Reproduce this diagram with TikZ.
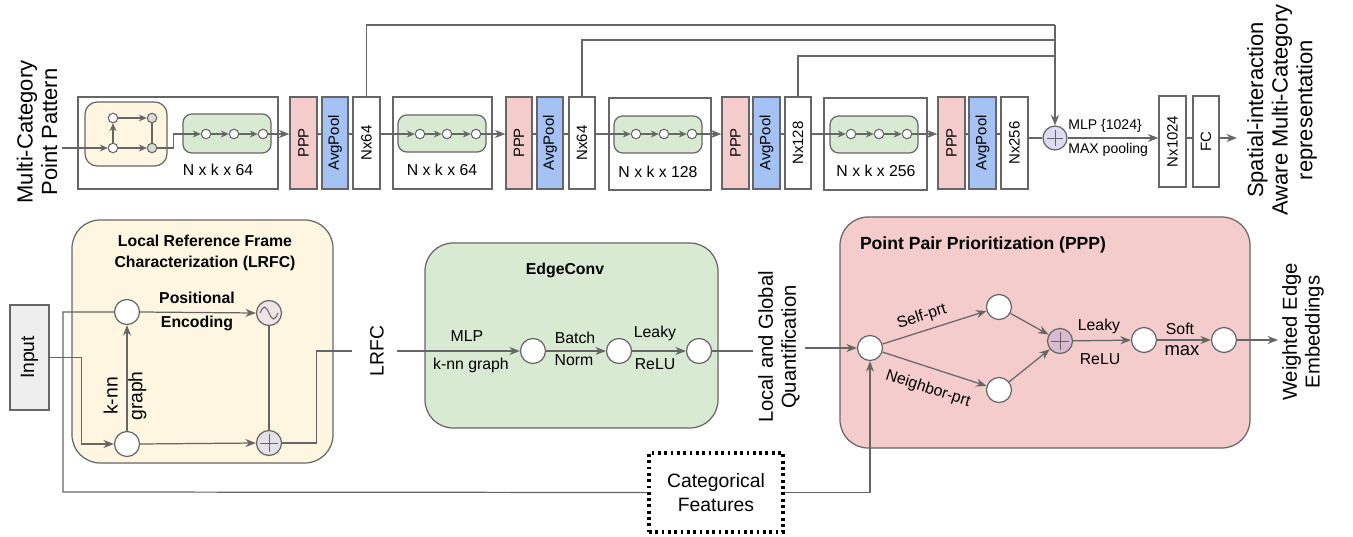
\documentclass[tikz,border=0pt]{standalone}
\usepackage{fontspec}
\setmainfont{Liberation Sans}
\usetikzlibrary{arrows.meta,calc,fit}

\definecolor{ln}{HTML}{666666}
\definecolor{pinkf}{HTML}{F4CCCC}
\definecolor{bluef}{HTML}{A4C2F4}
\definecolor{greenf}{HTML}{D9EAD3}
\definecolor{yellowf}{HTML}{FEF6E0}
\definecolor{grayf}{HTML}{EEEEEE}
\definecolor{lavf}{HTML}{DCDCF2}
\definecolor{mauvef}{HTML}{D8BCD2}
\definecolor{sinef}{HTML}{EEE4E6}
\definecolor{sumf}{HTML}{E4E2E6}
\definecolor{dotgray}{HTML}{D9D9D9}

\newcommand\fsBox{\fontsize{8.5}{10}\selectfont}
\newcommand\fsDim{\fontsize{9}{11}\selectfont}
\newcommand\fsBig{\fontsize{12.5}{14}\selectfont}
\newcommand\fsMid{\fontsize{11}{14}\selectfont}
\newcommand\fsSide{\fontsize{11.5}{13}\selectfont}
\newcommand\fsLbl{\fontsize{9}{11}\selectfont}
\newcommand\fsSm{\fontsize{8}{10}\selectfont}
\newcommand\fsHead{\fontsize{9}{12}\selectfont\bfseries}
\newcommand\fsHeadL{\fontsize{10}{12}\selectfont\bfseries}

\tikzset{
  wire/.style={draw=ln, line width=0.7pt},
  arr/.style={wire, -{Stealth[length=6pt,width=4.6pt]}},
  sarr/.style={wire, -{Stealth[length=4.5pt,width=4pt]}},
  frame/.style={draw=ln, line width=0.7pt, inner sep=0pt},
  rbox/.style={frame, rounded corners=16pt},
  sbox/.style={frame, rounded corners=5pt},
  dot/.style={circle, draw=ln, fill=white, line width=0.6pt, minimum size=0.19cm, inner sep=0pt},
  bnode/.style={circle, draw=ln, fill=white, line width=0.7pt, minimum size=0.5cm, inner sep=0pt},
  txt/.style={inner sep=0pt},
  elbl/.style={inner sep=1.5pt, font=\fsLbl},
  cross/.style={draw=ln, line width=0.4pt},
}

% narrow upright box with rotated caption
\newcommand\colbox[5]{%
  \node[frame, fill=#4, fit={(#2,97) (#3,189)}] (#1) {};
  \node[txt, rotate=90, font=\fsBox] (#1t) at (#1.center) {#5};}

\begin{document}
\begin{tikzpicture}[x=0.02cm, y=-0.02cm]
\useasboundingbox (0,0) rectangle (1353,537);

% ---------------- upper pipeline ----------------
\node[txt, rotate=90, align=center, font=\fsBig] (mcpp) at (37,132) {Multi-Category\\Point Pattern};
\coordinate (src) at (62,148);

% block 1
\node[frame, fit={(78,97) (278,189)}] (blk1) {};
\node[frame, fill=yellowf, rounded corners=7pt, fit={(85,102) (167,166)}] (knn1) {};
\node[dot] (m1) at (113,148) {};
\node[dot] (m2) at (113,118) {};
\node[dot, fill=dotgray] (m3) at (152,118) {};
\node[dot, fill=dotgray] (m4) at (152,148) {};
\node[sbox, fill=greenf, fit={(183,114) (271,153)}] (ec1) {};
\node[dot] (g11) at (206,134) {};
\node[dot] (g12) at (234,134) {};
\node[dot] (g13) at (263,134) {};
\node[txt, font=\fsDim] (d1) at (218,170) {N x k x 64};

\colbox{ppp1}{290}{317}{pinkf}{PPP}
\colbox{avg1}{322}{348}{bluef}{AvgPool}
\colbox{nxa}{353}{380}{white}{Nx64}

% block 2
\node[frame, fit={(393,97) (492,189)}] (blk2) {};
\node[sbox, fill=greenf, fit={(398,115) (486,152)}] (ec2) {};
\node[dot] (g21) at (420,134) {};
\node[dot] (g22) at (447,134) {};
\node[dot] (g23) at (476,134) {};
\node[txt, font=\fsDim] (d2) at (442,170) {N x k x 64};

\colbox{ppp2}{506}{532}{pinkf}{PPP}
\colbox{avg2}{537}{563}{bluef}{AvgPool}
\colbox{nxb}{569}{595}{white}{Nx64}

% block 3
\node[frame, fit={(609,98) (711,190)}] (blk3) {};
\node[sbox, fill=greenf, fit={(614,116) (702,153)}] (ec3) {};
\node[dot] (g31) at (636,134) {};
\node[dot] (g32) at (664,134) {};
\node[dot] (g33) at (692,134) {};
\node[txt, font=\fsDim] (d3) at (658,172) {N x k x 128};

\colbox{ppp3}{722}{749}{pinkf}{PPP}
\colbox{avg3}{753}{780}{bluef}{AvgPool}
\colbox{nxc}{785}{811}{white}{Nx128}

% block 4
\node[frame, fit={(824,98) (927,190)}] (blk4) {};
\node[sbox, fill=greenf, fit={(830,116) (918,153)}] (ec4) {};
\node[dot] (g41) at (851,134) {};
\node[dot] (g42) at (879,134) {};
\node[dot] (g43) at (907,134) {};
\node[txt, font=\fsDim] (d4) at (876,171) {N x k x 256};

\colbox{ppp4}{938}{965}{pinkf}{PPP}
\colbox{avg4}{969}{996}{bluef}{AvgPool}
\colbox{nxd}{1001}{1028}{white}{Nx256}

% aggregation and head
\node[circle, draw=ln, fill=lavf, line width=0.7pt, minimum size=0.48cm, inner sep=0pt] (sum) at (1055,138) {};
\draw[cross] ($(sum)+(-8,0)$) -- ($(sum)+(8,0)$) ($(sum)+(0,-8)$) -- ($(sum)+(0,8)$);
\node[frame, fill=white, fit={(1159,96) (1186,187)}] (n1024) {};
\node[txt, rotate=90, font=\fsBox] (n1024t) at (n1024.center) {Nx1024};
\node[frame, fill=white, fit={(1193,96) (1219,187)}] (fc) {};
\node[txt, rotate=90, font=\fsBox] (fct) at (fc.center) {FC};
\coordinate (out) at (1237,138);
\node[txt, rotate=90, align=center, font=\fsBig] (sia) at (1282,110) {Spatial-interaction\\Aware Multi-Category\\representation};

% upper connectors
\draw[sarr] (src) -- (m1);
\draw[sarr] (m1) -- (m2);
\draw[sarr] (m2) -- (m3);
\draw[sarr] (m1) -- (m4);
\draw[wire] (m3) -- (m4);
\draw[sarr] (m4.east) -- ++(16,0) |- (g11);
\draw[sarr] (g11) -- (g12);
\draw[sarr] (g12) -- (g13);
\draw[arr] (g13) -- (g13 -| ppp1.west);
\draw[wire] (ppp1.east |- g13) -- (avg1.west |- g13);
\draw[wire] (avg1.east |- g13) -- (nxa.west |- g13);

\draw[sarr] (g21 -| nxa.east) -- (g21);
\draw[sarr] (g21) -- (g22);
\draw[sarr] (g22) -- (g23);
\draw[arr] (g23) -- (g23 -| ppp2.west);
\draw[wire] (ppp2.east |- g23) -- (avg2.west |- g23);
\draw[wire] (avg2.east |- g23) -- (nxb.west |- g23);

\draw[sarr] (g31 -| nxb.east) -- (g31);
\draw[sarr] (g31) -- (g32);
\draw[sarr] (g32) -- (g33);
\draw[arr] (g33) -- (g33 -| ppp3.west);
\draw[wire] (ppp3.east |- g33) -- (avg3.west |- g33);
\draw[wire] (avg3.east |- g33) -- (nxc.west |- g33);

\draw[sarr] (g41 -| nxc.east) -- (g41);
\draw[sarr] (g41) -- (g42);
\draw[sarr] (g42) -- (g43);
\draw[arr] (g43) -- (g43 -| ppp4.west);
\draw[wire] (ppp4.east |- g43) -- (avg4.west |- g43);
\draw[wire] (avg4.east |- g43) -- (nxd.west |- g43);
\draw[wire] (nxd.east |- sum) -- (sum.west);

% skip connections into the sum
\coordinate (j1) at (1055,25);
\coordinate (j2) at (1055,40);
\coordinate (j3) at (1055,56);
\draw[wire] (nxa.north) |- (j1);
\draw[wire] (nxb.north) |- (j2);
\draw[wire] (nxc.north) |- (j3);
\draw[arr] (j1) -- (sum.north);

\draw[arr] (sum.east) -- (sum.east -| n1024.west);
\node[txt, anchor=west, font=\fsSm] (mlp) at (1068,126) {MLP \{1024\}};
\node[txt, anchor=west, font=\fsSm] (maxp) at (1068,150) {MAX pooling};
\draw[wire] (n1024.east |- sum) -- (fc.west |- sum);
\draw[arr] (fc.east |- sum) -- (out);

% ---------------- LRFC ----------------
\node[frame, fill=grayf, fit={(10,305) (49,410)}] (input) {};
\node[txt, rotate=90, font=\fsMid] (inputt) at (input.center) {Input};

\node[rbox, fill=yellowf, fit={(72,220) (333,463)}] (lrfc) {};
\node[txt, align=center, font=\fsHead] (lrfct) at (205,253) {Local Reference Frame\\Characterization (LRFC)};
\node[bnode] (A) at (127,312) {};
\node[bnode] (B) at (127,444) {};
\node[bnode, fill=sinef] (C) at (269,313) {};
\node[bnode, fill=sumf] (D) at (269,443) {};
\draw[draw=ln, line width=0.6pt] ($(C)+(-9,0)$) sin ($(C)+(-4.5,-6)$) cos (C) sin ($(C)+(4.5,6)$) cos ($(C)+(9,0)$);
\draw[cross] ($(D)+(-9,0)$) -- ($(D)+(9,0)$) ($(D)+(0,-9)$) -- ($(D)+(0,9)$);
\node[txt, font=\fsHead] (pos) at (197,298) {Positional};
\node[txt, font=\fsHead] (enc) at (197,323) {Encoding};
\node[txt, rotate=90, align=center, font=\fsMid] (knn) at (125,396) {k-nn\\graph};

\draw[arr] (input.east) -- ++(32,0) |- (B.west);
\draw[arr] (B.north) -- (A.south);
\draw[arr] (A.east) -- (C.west);
\draw[arr] (B.east) -- (D.west);
\draw[wire] (C.south) -- (D.north);

\coordinate (lrfcL) at (352,351);
\node[txt, rotate=90, font=\fsMid] (lrfcout) at (377,351) {LRFC};
\coordinate (lrfcR) at (397,351);
\draw[wire] (D.east) -- ++(34,0) |- (lrfcL);

% ---------------- EdgeConv ----------------
\node[rbox, fill=greenf, fit={(425,243) (718,428)}] (edge) {};
\node[txt, font=\fsHead] (edget) at (565,270) {EdgeConv};
\node[bnode] (E1) at (533,351) {};
\node[bnode] (E2) at (619,351) {};
\node[bnode] (E3) at (699,351) {};
\draw[arr] (lrfcR) -- (E1);
\draw[arr] (E1) -- (E2);
\draw[arr] (E2) -- (E3);
\node[txt, font=\fsLbl] (l1) at (467,336) {MLP};
\node[txt, font=\fsLbl] (l2) at (471,365) {k-nn graph};
\node[txt, font=\fsLbl] (l3) at (575,338) {Batch};
\node[txt, font=\fsLbl] (l4) at (574,360) {Norm};
\node[txt, font=\fsLbl] (l5) at (655,333) {Leaky};
\node[txt, font=\fsLbl] (l6) at (655,364) {ReLU};

\coordinate (lgqL) at (753,351);
\draw[wire] (E3) -- (lgqL);
\node[txt, rotate=90, align=center, font=\fsSide] (lgq) at (779,347) {Local and Global\\Quantification};
\coordinate (lgqR) at (805,348);

% ---------------- categorical features ----------------
\node[draw=black, line width=1.8pt, dash pattern=on 1.6pt off 2pt, inner sep=0pt, fit={(649,453) (783,532)}] (cat) {};
\node[txt, align=center, font=\fontsize{11}{14}\selectfont] (catt) at (cat.center) {Categorical\\Features};
\coordinate (low) at (63,492);
\draw[wire] (A.west) -| (low) -- (cat.west);

% ---------------- PPP ----------------
\node[rbox, fill=pinkf, fit={(840,217) (1250,448)}] (pppbox) {};
\node[txt, font=\fsHeadL] (pppt) at (983,245) {Point Pair Prioritization (PPP)};
\node[bnode] (P1) at (870,348) {};
\node[bnode] (P2) at (999,307) {};
\node[bnode] (P3) at (999,390) {};
\node[bnode, fill=mauvef] (P4) at (1060,341) {};
\node[bnode] (P5) at (1144,340) {};
\node[bnode] (P6) at (1224,340) {};
\draw[cross] ($(P4)+(-9,0)$) -- ($(P4)+(9,0)$) ($(P4)+(0,-9)$) -- ($(P4)+(0,9)$);

\draw[arr] (lgqR) -- (P1);
\draw[arr] (cat.east) -| (P1.south);
\draw[arr] (P1) -- node[elbl, sloped, above, pos=0.42, yshift=2pt] (selfl) {Self-prt} (P2);
\draw[arr] (P1) -- node[elbl, sloped, below, pos=0.5, yshift=-6pt] (neighl) {Neighbor-prt} (P3);
\draw[arr] (P2) -- (P4);
\draw[arr] (P3) -- (P4);
\draw[arr] (P4) -- (P5);
\draw[arr] (P5) -- (P6);
\node[txt, font=\fsLbl] (l7) at (1099,326) {Leaky};
\node[txt, font=\fsLbl] (l8) at (1100,359) {ReLU};
\node[txt, font=\fsLbl] (l9) at (1180,329) {Soft};
\node[txt, font=\fontsize{10.5}{12}\selectfont] (l10) at (1182,351) {max};
\coordinate (wee) at (1278,340);
\draw[arr] (P6) -- (wee);
\node[txt, rotate=90, align=center, font=\fsSide] (wet) at (1303,332) {Weighted Edge\\Embeddings};

\end{tikzpicture}
\end{document}
